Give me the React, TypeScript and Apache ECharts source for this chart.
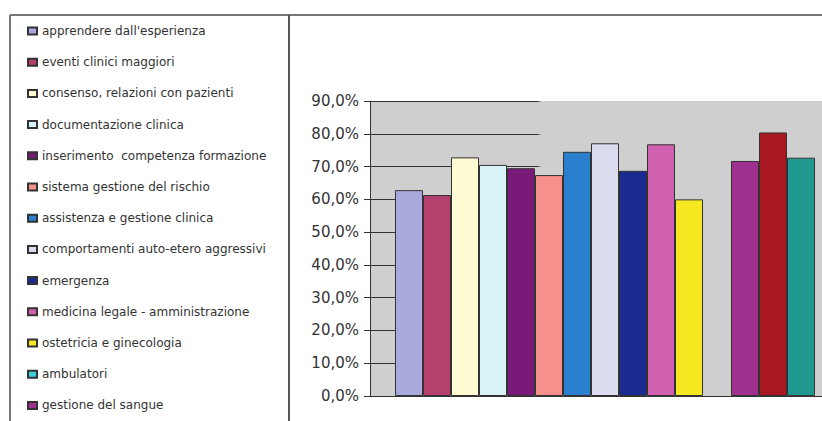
import React, { useEffect, useRef } from "react";
import * as echarts from "echarts";

const categories = [""];
const seriesNames = [
  "apprendere dall'esperienza",
  "eventi clinici maggiori",
  "consenso, relazioni con pazienti",
  "documentazione clinica",
  "inserimento  competenza formazione",
  "sistema gestione del rischio",
  "assistenza e gestione clinica",
  "comportamenti auto-etero aggressivi",
  "emergenza",
  "medicina legale - amministrazione",
  "ostetricia e ginecologia",
  "ambulatori",
  "gestione del sangue",
  "serie 14",
  "serie 15",
];
const legendShown = seriesNames.slice(0, 13);
const values: (number | null)[] = [
  62.8, 61.3, 72.8, 70.5, 69.5, 67.4, 74.5, 77.1, 68.7, 76.8, 60.0, null, 71.7, 80.4, 72.7,
];
const colors = [
  "#a9a9dc", "#b5406e", "#fffbd2", "#daf3f7", "#7a1a78", "#f5908a", "#2a80cc", "#dcdcf0",
  "#1a2a90", "#d060b0", "#f5e820", "#40d0d8", "#a03090", "#a81820", "#209890",
];

export default function App() {
  const ref = useRef<HTMLDivElement>(null);
  useEffect(() => {
    if (!ref.current) return;
    const chart = echarts.init(ref.current, undefined, { renderer: "svg" });
    const gridGrad = new echarts.graphic.LinearGradient(
      370, 0, 840, 0,
      [
        { offset: 0, color: "#333" },
        { offset: 0.355, color: "#333" },
        { offset: 0.365, color: "rgba(0,0,0,0)" },
        { offset: 1, color: "rgba(0,0,0,0)" },
      ],
      true
    );
    chart.setOption({
      animation: false,
      backgroundColor: "#ffffff",
      graphic: [
        { type: "line", shape: { x1: 10, y1: 15, x2: 860, y2: 15 }, style: { stroke: "#777", lineWidth: 2 } },
        { type: "line", shape: { x1: 10, y1: 15, x2: 10, y2: 430 }, style: { stroke: "#777", lineWidth: 2 } },
        { type: "line", shape: { x1: 289, y1: 15, x2: 289, y2: 430 }, style: { stroke: "#555", lineWidth: 2 } },
      ],
      legend: {
        data: legendShown,
        orient: "vertical",
        left: 22,
        top: 19,
        height: 600,
        itemWidth: 9,
        itemHeight: 7,
        itemGap: 17.2,
        icon: "rect",
        selectedMode: false,
        textStyle: { fontFamily: "DejaVu Sans", fontSize: 12, color: "#333", lineHeight: 14 },
      },
      grid: {
        left: 370,
        right: 20,
        top: 101,
        bottom: 25,
        show: true,
        backgroundColor: "#cfcfcf",
        borderWidth: 0,
      },
      xAxis: {
        type: "category",
        data: categories,
        axisLine: { show: true, lineStyle: { color: "#333", width: 1 } },
        axisTick: { show: false },
        axisLabel: { show: false },
      },
      yAxis: {
        type: "value",
        min: 0,
        max: 90,
        interval: 10,
        axisLine: { show: true, lineStyle: { color: "#333", width: 1 } },
        axisTick: { show: true, inside: false, length: 6, lineStyle: { color: "#333" } },
        axisLabel: {
          margin: 11,
          fontFamily: "DejaVu Sans",
          fontSize: 15,
          color: "#333",
          formatter: (v: number) => v.toFixed(1).replace(".", ",") + "%",
        },
        splitLine: { show: true, lineStyle: { color: gridGrad, width: 1 } },
      },
      series: seriesNames.map((name, i) => ({
        name,
        type: "bar",
        data: [values[i]],
        barWidth: 28,
        barGap: "0%",
        itemStyle: { color: colors[i], borderColor: "#333", borderWidth: 1 },
      })),
    });
    return () => chart.dispose();
  }, []);
  return (
    <div style={{ position: "fixed", left: 0, top: 0, width: 822, height: 421, overflow: "hidden", background: "#fff" }}>
      <div ref={ref} style={{ width: 860, height: 421 }} />
    </div>
  );
}
